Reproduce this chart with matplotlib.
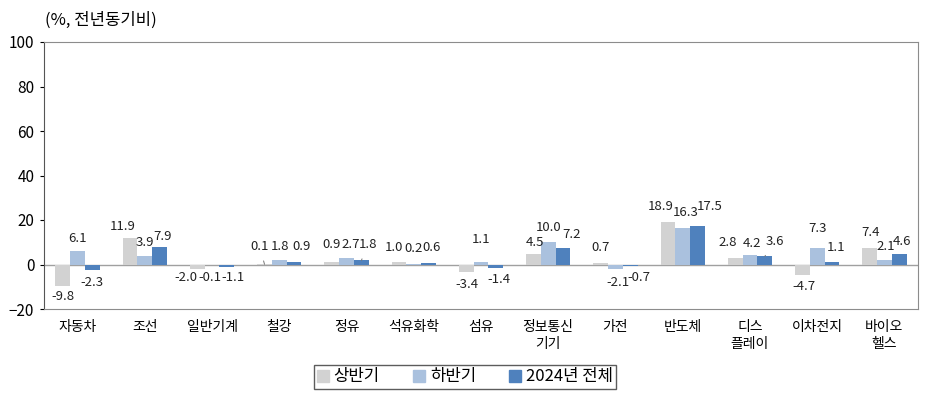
import numpy as np
import matplotlib as mpl
mpl.use('Agg')
import matplotlib.pyplot as plt
from matplotlib.patches import Patch

plt.rcParams['font.family'] = ['Noto Sans CJK KR', 'DejaVu Sans']

categories = ['자동차', '조선', '일반기계', '철강', '정유', '석유화학', '섬유',
              '정보통신\n기기', '가전', '반도체', '디스\n플레이', '이차전지', '바이오\n헬스']
first_half = [-9.8, 11.9, -2.0, 0.1, 0.9, 1.0, -3.4, 4.5, 0.7, 18.9, 2.8, -4.7, 7.4]
second_half = [6.1, 3.9, -0.1, 1.8, 2.7, 0.2, 1.1, 10.0, -2.1, 16.3, 4.2, 7.3, 2.1]
full_year = [-2.3, 7.9, -1.1, 0.9, 1.8, 0.6, -1.4, 7.2, -0.7, 17.5, 3.6, 1.1, 4.6]
series_names = ['상반기', '하반기', '2024년 전체']
colors = ['#d2d2d2', '#aac1de', '#4f81bd']

# label offsets from the bar end, in pixels (dx, dy), one row per series
lab_dx = [[0, -7, -11, -5, 0, -5, 1, 1, 0, -7, -7, 2, 1],
          [0, 0, -2, 1, 4, 0, 0, 0, 2, 3, 2, 0, 1],
          [0, 3, 6, 7, 7, 3, 3, 9, 9, 12, 10, 4, 3]]
lab_dy = [[-10, 12, -9, 18, 18, 15, -12, 12, 15, 16, 16, -12, 16],
          [12, 13, -13, 14, 14, 16, 23, 15, -13, 16, 12, 20, 13],
          [-13, 10, -11, 16, 16, 16, -12, 14, -11, 19, 15, 15, 13]]
leaders = {(3, 0), (4, 2), (10, 2)}

fig = plt.figure(figsize=(9.33, 3.96), dpi=100)
ax = fig.add_axes([44/933, 1-309/396, (918-44)/933, (309-42)/396])

x = np.arange(len(categories))
w = 0.22
for k, vals in enumerate([first_half, second_half, full_year]):
    xs = x + (k-1)*w
    ax.bar(xs, vals, width=w, color=colors[k], zorder=2)
    for i, v in enumerate(vals):
        kw = {}
        if (i, k) in leaders:
            kw['arrowprops'] = dict(arrowstyle='-', color='#777777', lw=0.7, shrinkA=4, shrinkB=0)
        ax.annotate('%.1f' % v, xy=(xs[i], v), xytext=(lab_dx[k][i], lab_dy[k][i]),
                    textcoords='offset pixels', ha='center', va='center',
                    fontsize=9.5, color='#222222', **kw)

ax.axhline(0, color='#a0a0a0', lw=1, zorder=1)
ax.set_xlim(-0.5, len(categories)-0.5)
ax.set_ylim(-20, 100)
ax.set_yticks(np.arange(-20, 101, 20))
ax.set_xticks(x)
ax.set_xticklabels(categories, fontsize=10, linespacing=1.3)
ax.tick_params(axis='x', length=0, pad=8)
ax.tick_params(axis='y', length=3, labelsize=11, pad=4)
for s in ['top', 'right', 'bottom']:
    ax.spines[s].set_color('#8c8c8c')
ax.spines['left'].set_color('#555555')

fig.text(45/933, 1-20/396, '(%, 전년동기비)', fontsize=12, va='center', ha='left')

handles = [Patch(color=c) for c in colors]
leg = fig.legend(handles, series_names, loc='center', bbox_to_anchor=(465/933, 1-377/396), ncol=3,
                 fontsize=12, frameon=True, fancybox=False, handlelength=0.7, handleheight=0.7,
                 handletextpad=0.3, columnspacing=2.0, borderpad=0.2)
leg.get_frame().set_edgecolor('#333333')
leg.get_frame().set_linewidth(1)

fig.savefig('out.png', dpi=100)
